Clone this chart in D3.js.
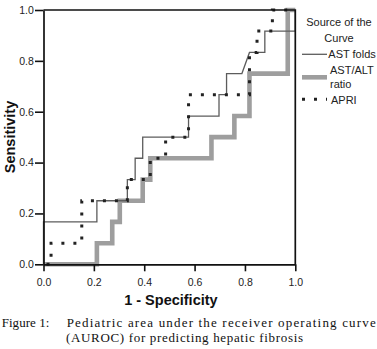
<!DOCTYPE html>
<html>
<head>
<meta charset="utf-8">
<script src="https://cdn.jsdelivr.net/npm/d3@7"></script>
<style>
  body { margin: 0; background: #fff; }
  svg { display: block; }
</style>
</head>
<body>
<svg id="chart"></svg>
<script>
const width = 377;
const height = 349;

// ROC curves: [1 - specificity, sensitivity] corner points of each step curve
const astFolds = [
    [0, 0], [0, 0.167], [0.212, 0.167], [0.212, 0.25], [0.333, 0.25], [0.333, 0.333],
    [0.364, 0.333], [0.364, 0.417], [0.394, 0.417], [0.394, 0.5], [0.576, 0.5],
    [0.576, 0.583], [0.697, 0.583], [0.697, 0.667], [0.727, 0.667], [0.727, 0.75],
    [0.788, 0.75], [0.818, 0.833], [0.879, 0.833], [0.879, 0.917], [1, 0.917], [1, 1]
];
const astAltRatio = [
    [0, 0], [0.212, 0], [0.212, 0.083], [0.273, 0.083], [0.273, 0.167], [0.303, 0.167],
    [0.303, 0.25], [0.394, 0.25], [0.394, 0.333], [0.424, 0.333], [0.424, 0.417],
    [0.667, 0.417], [0.667, 0.5], [0.758, 0.5], [0.758, 0.583], [0.818, 0.583],
    [0.818, 0.75], [0.97, 0.75], [0.97, 1], [1, 1]
];
const apri = [
    [0, 0], [0.03, 0], [0.03, 0.083], [0.152, 0.083], [0.152, 0.25], [0.333, 0.25],
    [0.333, 0.333], [0.424, 0.333], [0.424, 0.417], [0.485, 0.417], [0.485, 0.5],
    [0.576, 0.5], [0.576, 0.667], [0.818, 0.667], [0.818, 0.833], [0.848, 0.833],
    [0.848, 0.917], [0.909, 0.917], [0.909, 1], [1, 1]
];

const tickValues = [0, 0.2, 0.4, 0.6, 0.8, 1.0];
const legendTitle = ["Source of the", "Curve"];
const captionLabel = "Figure 1:";
const captionLines = [
    "Pediatric area under the receiver operating curve",
    "(AUROC) for predicting hepatic fibrosis"
];

const sans = "'Liberation Sans', Arial, Helvetica, sans-serif";
const serif = "'Liberation Serif', 'Times New Roman', serif";

const plot = { left: 43.5, right: 295.3, top: 10, bottom: 264.3 };

const svg = d3.select("#chart")
    .attr("width", width)
    .attr("height", height)
    .style("font-family", sans);

const x = d3.scaleLinear().domain([0, 1]).range([plot.left, plot.right]);
const y = d3.scaleLinear().domain([0, 1]).range([plot.bottom, plot.top]);

const line = d3.line().x(d => x(d[0])).y(d => y(d[1]));

// Curve styles: thin grey, thick light grey, square dots
const styles = {
    astFolds: { stroke: "#5c5c5c", width: 1.3, dash: null, offset: 0 },
    astAlt: { stroke: "#9e9e9e", width: 4.6, dash: null, offset: 0 },
    apri: { stroke: "#222", width: 3, dash: "3,9", offset: 9 }
};

function drawCurve(data, s) {
    svg.append("path")
        .datum(data)
        .attr("d", line)
        .attr("fill", "none")
        .attr("stroke", s.stroke)
        .attr("stroke-width", s.width)
        .attr("stroke-dasharray", s.dash)
        .attr("stroke-dashoffset", s.offset)
        .attr("stroke-linecap", "butt")
        .attr("stroke-linejoin", "miter");
}

drawCurve(astAltRatio, styles.astAlt);
drawCurve(astFolds, styles.astFolds);
drawCurve(apri, styles.apri);

// Axes
const fmt = d3.format(".1f");

const yAxis = svg.append("g")
    .attr("transform", `translate(${plot.left},0)`)
    .call(d3.axisLeft(y).tickValues(tickValues).tickFormat(fmt).tickSize(8.5).tickSizeOuter(0).tickPadding(1.2));

const xAxis = svg.append("g")
    .attr("transform", `translate(0,${plot.bottom})`)
    .call(d3.axisBottom(x).tickValues(tickValues).tickFormat(fmt).tickSize(7).tickSizeOuter(0).tickPadding(7));

[xAxis, yAxis].forEach(g => {
    g.select(".domain").attr("stroke", "#111").attr("stroke-width", 1.7);
    g.selectAll(".tick line").attr("stroke", "#111").attr("stroke-width", 1.6);
    g.selectAll(".tick text")
        .attr("fill", "#222")
        .style("font-family", sans)
        .style("font-size", "10.5px");
});

// top and right frame
svg.append("path")
    .attr("d", `M${plot.left},${plot.top}H${plot.right}V${plot.bottom}`)
    .attr("fill", "none")
    .attr("stroke", "#111")
    .attr("stroke-width", 1.7);

// Axis titles
svg.append("text")
    .attr("x", (plot.left + plot.right) / 2 + 1.5)
    .attr("y", 305)
    .attr("text-anchor", "middle")
    .style("font-weight", "bold")
    .style("font-size", "14.5px")
    .attr("fill", "#111")
    .text("1 - Specificity");

svg.append("text")
    .attr("transform", "translate(15,137) rotate(-90)")
    .attr("text-anchor", "middle")
    .style("font-weight", "bold")
    .style("font-size", "14.5px")
    .attr("fill", "#111")
    .text("Sensitivity");

// Legend
const legend = svg.append("g").attr("fill", "#222").style("font-size", "11px");

legend.selectAll("text.title")
    .data(legendTitle)
    .enter().append("text")
    .attr("class", "title")
    .attr("x", 339)
    .attr("y", (d, i) => 26 + i * 15.5)
    .attr("text-anchor", "middle")
    .text(d => d);

const legendItems = [
    { style: styles.astFolds, y: 54.3, labels: ["AST folds"], lx: 328.3, ly: 58 },
    { style: styles.astAlt, y: 77.3, labels: ["AST/ALT", "ratio"], lx: 330, ly: 74 },
    { style: styles.apri, y: 99.3, labels: ["APRI"], lx: 331, ly: 103.5 }
];

legendItems.forEach(item => {
    legend.append("line")
        .attr("x1", 302).attr("x2", 327)
        .attr("y1", item.y).attr("y2", item.y)
        .attr("stroke", item.style.stroke)
        .attr("stroke-width", item.style.width)
        .attr("stroke-dasharray", item.style.dash);
    item.labels.forEach((t, i) => {
        legend.append("text")
            .attr("x", item.lx)
            .attr("y", item.ly + i * 13.5)
            .text(t);
    });
});

// Caption under the chart
const caption = svg.append("g")
    .attr("fill", "#111")
    .style("font-family", serif)
    .style("font-size", "13px");

caption.append("text")
    .attr("x", 1.7).attr("y", 326.7)
    .attr("textLength", 47.6)
    .attr("lengthAdjust", "spacing")
    .text(captionLabel);

caption.append("text")
    .attr("x", 66.7).attr("y", 326.7)
    .attr("textLength", 309)
    .attr("lengthAdjust", "spacing")
    .text(captionLines[0]);

caption.append("text")
    .attr("x", 66).attr("y", 341.6)
    .attr("textLength", 237)
    .attr("lengthAdjust", "spacing")
    .text(captionLines[1]);
</script>
</body>
</html>
